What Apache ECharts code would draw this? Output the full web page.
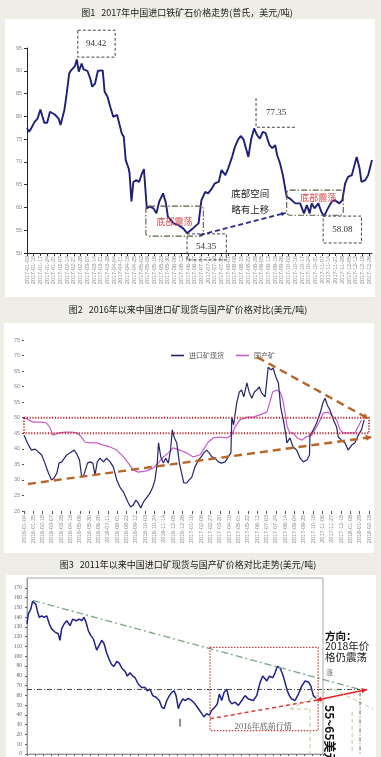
<!DOCTYPE html>
<html><head><meta charset="utf-8">
<script src="https://cdn.jsdelivr.net/npm/echarts@6/dist/echarts.min.js"></script>
<style>html,body{margin:0;padding:0;background:#eeede6}#c{width:381px;height:757px}</style>
</head><body><div id="c"></div>
<script>
// ===== Chart 1: 2017 imported iron ore price (USD/t). x = calendar days since 2017-01-03
const days1 = [0,2,4,8,11,14,18,21,24,29,33,35,39,41,44,46,48,50,52,54,57,59,63,66,68,71,74,79,81,84,87,90,94,96,99,101,102,103,106,107,109,111,114,117,120,122,125,128,132,135,138,142,145,147,153,158,163,167,173,179,182,186,189,193,196,200,203,207,210,214,217,220,223,226,228,231,234,237,240,243,246,249,253,256,259,261,264,267,271,272,274,280,285,289,292,295,297,300,304,307,310,314,318,321,326,329,332,335,339,344,347,349,353,356,360];
const price1 = [77.4,76.6,77.2,78.8,79.5,81.5,78.6,78.6,81.0,80.4,79.5,78.1,81.4,84.3,89.4,90.1,90.0,91.0,92.5,89.8,91.6,90.3,90.0,88.3,86.5,87.2,90.0,90.1,85.4,84.3,82.0,79.9,80.3,79.9,76.2,75.5,73.0,70.4,68.6,67.5,61.3,65.6,66.0,65.6,67.5,68.4,59.8,60.2,59.8,58.7,61.3,63.1,60.9,58.0,56.5,56.1,55.4,54.35,55.4,56.5,61.6,63.4,63.1,64.2,65.3,65.6,68.2,67.1,68.6,71.1,73.3,74.8,75.7,74.9,73.3,71.1,75.1,77.35,75.9,75.1,76.6,76.3,73.7,73.0,73.7,71.5,69.7,67.1,62.3,62.7,62.0,60.9,60.9,58.7,60.5,58.7,60.9,59.8,60.9,59.1,58.08,59.8,61.3,61.6,60.9,61.6,65.3,66.7,67.1,71.1,68.6,65.6,66.0,67.1,70.4];
const yTicks1 = [50,55,60,65,70,75,80,85,90,95];
const xStart1 = [2017,1,3], xSpan1 = 360, xStep1 = 7;

// ===== Chart 2: imported spot vs domestic ore. x = days since 2016-01-04
const days2Import = [0,2,10,17,25,32,40,47,55,62,68,74,79,85,91,96,104,113,119,125,130,135,143,149,155,160,165,171,179,186,194,201,209,216,224,230,235,240,246,252,257,263,269,276,284,290,295,300,303,308,314,319,325,330,334,338,344,350,355,360,366,372,378,385,393,399,405,411,417,423,430,438,445,453,460,466,468,472,479,485,490,495,502,507,513,519,524,530,535,543,547,550,556,561,568,573,578,584,590,592,599,606,614,622,629,637,643,644,652,659,667,673,678,683,689,697,704,708,715,723,730,738,745,753,760,766];
const import2 = [44.4,43.8,41.2,39.6,39.9,39.0,38.0,35.4,32.2,30.0,30.6,32.2,35.4,35.8,37.0,38.0,38.7,39.6,38.3,36.4,30.9,31.6,35.4,35.8,35.4,31.6,35.8,37.0,35.8,37.0,35.8,34.2,30.0,27.7,26.1,24.2,22.6,21.3,21.9,23.5,22.6,21.0,22.9,24.2,25.8,27.7,30.0,35.4,41.9,37.4,35.4,37.0,35.4,39.6,46.1,43.8,41.9,35.4,32.2,29.0,29.0,30.0,30.9,34.2,36.4,37.4,38.7,39.6,38.7,37.4,37.0,35.8,35.4,35.8,37.4,38.7,50.2,47.7,54.7,58.3,58.9,56.7,61.2,58.3,56.3,58.3,58.9,59.9,58.0,56.7,62.1,66.3,65.4,66.0,62.8,61.2,53.5,49.3,44.4,41.9,43.5,40.6,39.6,37.0,35.8,36.4,38.0,44.4,46.1,48.3,51.5,54.7,56.3,54.1,52.5,49.3,47.0,43.8,42.8,41.9,39.6,41.2,41.9,44.4,46.1,49.3];
const days2Domestic = [0,10,21,40,51,59,65,77,95,107,119,128,137,149,164,179,194,209,224,235,246,257,276,291,302,314,325,336,351,366,381,396,408,415,426,441,456,468,475,486,502,516,531,547,554,560,569,577,583,588,593,599,606,615,626,635,648,659,667,674,685,697,704,712,719,734,745,757,760];
const domestic2 = [50.2,49.3,48.6,48.6,48.3,46.7,44.4,45.1,45.4,45.4,45.1,44.1,42.2,41.9,41.9,41.2,40.6,39.6,37.4,35.4,33.2,32.5,32.9,33.8,35.4,37.4,38.7,40.3,39.6,38.7,37.4,38.0,40.6,42.2,43.5,43.8,43.5,44.4,47.0,49.3,50.2,50.2,50.9,51.8,55.1,58.3,58.9,58.3,55.7,51.5,47.0,45.1,45.1,43.5,42.8,43.8,44.4,47.0,49.3,51.5,51.8,50.2,49.3,46.1,45.1,45.1,45.1,48.3,49.3];
const seriesNames2 = ['进口矿现货','国产矿'];
const yTicks2 = [20,25,30,35,40,45,50,55,60,65,70,75];
const xStart2 = [2016,1,4], xSpan2 = 777, xStep2 = 21;

// ===== Chart 3: since 2011 (USD/t). x = days since 2011-01-04
const days3 = [0,11,33,50,64,79,91,109,130,150,174,197,218,247,276,291,306,327,351,380,404,433,462,483,503,521,541,562,585,615,638,660,680,704,727,748,768,792,815,836,865,886,909,933,954,983,1013,1042,1062,1086,1110,1139,1168,1189,1210,1234,1257,1278,1298,1316,1336,1351,1375,1395,1424,1454,1483,1513,1543,1563,1587,1610,1631,1660,1680,1698,1719,1740,1763,1786,1808,1837,1866,1896,1925,1954,1998,2028,2057,2081,2117,2140,2170,2190,2210,2234,2258,2278,2298,2316,2337,2366,2396,2426,2455,2484,2505,2528,2552];
const price3 = [133,143,148,156.3,158,153,146.3,139.7,141.3,139.7,141.3,133,128,124.7,123,116.3,128,133,136.3,131.3,138,136.3,138,136.3,139.7,134.7,126.3,121.3,118,106.3,111.3,116.3,113,103,96.3,91.3,89.7,94.7,93,88,84.7,79.7,83,79.7,78,71.3,68,68,64.7,66.3,59.7,58,54.7,48,46.3,54.7,59.7,63,64.7,59.7,46.3,51.3,56.3,54.7,57,54.7,51.3,46.3,41.3,38,41.3,39.7,44.7,48,51.3,61.3,54.7,63,66.3,54.7,51.3,53,49.7,54.7,59.7,56.3,54.7,59.7,73,79.7,74.7,79.7,78,83,89.7,88,81.3,73,64.7,59.7,56.3,54.7,61.3,69.7,74.7,73.7,69.7,59.7,57];
const yTicks3 = [0,10,20,30,40,50,60,70,80,90,100,110,120,130,140,150,160,170,180];
const xStart3 = [2011,1,4], xSpan3 = 2613, xStep3 = 70;

const titles = ['图1   2017年中国进口铁矿石价格走势(普氏，美元/吨)',
                '图2   2016年以来中国进口矿现货与国产矿价格对比(美元/吨)',
                '图3   2011年以来中国进口矿现货与国产矿价格对比走势(美元/吨)'];

// ---------------------------------------------------------------
const CJK = '"Noto Sans CJK SC", sans-serif';
function dateFmt(s){ const t0 = Date.UTC(s[0], s[1]-1, s[2]);
  const p = n => (n<10?'0':'')+n;
  return v => { const t = new Date(t0 + Math.round(v)*864e5);
    return t.getUTCFullYear()+'-'+p(t.getUTCMonth()+1)+'-'+p(t.getUTCDate()); }; }
const pairs = (xs, ys) => xs.map((x,i)=>[x, ys[i]]);
function yAx(g, ticks, extra){ return Object.assign({gridIndex:g, type:'value', min:ticks[0], max:ticks[ticks.length-1], interval:ticks[1]-ticks[0],
  splitLine:{show:false}}, extra); }

const chart = echarts.init(document.getElementById('c'), null, {width:381, height:757});
chart.setOption({
  animation:false,
  backgroundColor:'#eeede6',
  grid:[
    {left:27, top:48, width:345, height:205},
    {left:24, top:340, width:345, height:171},
    {left:27, top:578, width:296, height:180, show:true, borderColor:'#a8a8a8', borderWidth:1, backgroundColor:'rgba(0,0,0,0)'}
  ],
  legend:{data:seriesNames2, left:166, top:347, icon:'rect', itemWidth:13, itemHeight:1.6, itemGap:12,
    textStyle:{fontSize:7, color:'#555', fontFamily:CJK}},
  xAxis:[
    {gridIndex:0, type:'value', min:0, max:xSpan1, interval:xStep1, splitLine:{show:false},
      axisLine:{lineStyle:{color:'#222', width:1}}, axisTick:{length:3, lineStyle:{color:'#333'}},
      axisLabel:{rotate:90, fontSize:5.5, color:'#888', margin:3, formatter:dateFmt(xStart1), showMaxLabel:false}},
    {gridIndex:1, type:'value', min:0, max:xSpan2, interval:xStep2, splitLine:{show:false},
      axisLine:{show:false}, axisTick:{show:true, length:3, lineStyle:{color:'#555'}},
      axisLabel:{rotate:90, fontSize:5.5, color:'#888', margin:4, formatter:dateFmt(xStart2)}},
    {gridIndex:2, type:'value', min:0, max:xSpan3, interval:xStep3, splitLine:{show:false},
      axisLine:{lineStyle:{color:'#999'}}, axisTick:{length:2, lineStyle:{color:'#666'}},
      axisLabel:{show:false, formatter:dateFmt(xStart3)}}
  ],
  yAxis:[
    yAx(0, yTicks1, {axisLine:{show:true, lineStyle:{color:'#222'}}, axisTick:{show:true, length:3, lineStyle:{color:'#333'}},
      axisLabel:{fontSize:5.5, color:'#888', margin:5}}),
    yAx(1, yTicks2, {axisLine:{show:false}, axisTick:{show:true, length:2, lineStyle:{color:'#555'}},
      axisLabel:{fontSize:5.5, color:'#888', margin:4}}),
    yAx(2, yTicks3, {axisLine:{show:true, lineStyle:{color:'#999'}}, axisTick:{show:true, length:2, lineStyle:{color:'#666'}},
      axisLabel:{fontSize:5.5, color:'#666', margin:5, fontFamily:'"Liberation Serif", serif', showMaxLabel:false}})
  ],
  series:[
    {type:'line', name:'2017价格', xAxisIndex:0, yAxisIndex:0, symbol:'none', data:pairs(days1, price1),
      lineStyle:{color:'#1f1f7a', width:1.9}, itemStyle:{color:'#1f1f7a'}, z:5},
    {type:'line', name:seriesNames2[0], xAxisIndex:1, yAxisIndex:1, symbol:'none', data:pairs(days2Import, import2),
      lineStyle:{color:'#24246f', width:1.2}, itemStyle:{color:'#24246f'}, z:5},
    {type:'line', name:seriesNames2[1], xAxisIndex:1, yAxisIndex:1, symbol:'none', data:pairs(days2Domestic, domestic2),
      lineStyle:{color:'#c95ac9', width:1.2}, itemStyle:{color:'#c95ac9'}, z:4},
    {type:'line', name:'2011以来价格', xAxisIndex:2, yAxisIndex:2, symbol:'none', data:pairs(days3, price3),
      lineStyle:{color:'#20208a', width:1.5}, itemStyle:{color:'#20208a'}, z:5}
  ]
});

// ---------------- annotations (in data coordinates, converted by the chart's scales)
const px = (g, pt) => chart.convertToPixel({gridIndex:g}, pt);
const NONE = 'rgba(0,0,0,0)';
function L(g, a, b, style){ const p=px(g,a), q=px(g,b);
  return {type:'line', z:20, silent:true, shape:{x1:p[0],y1:p[1],x2:q[0],y2:q[1]}, style:Object.assign({fill:NONE}, style)}; }
function R(g, a, b, style, r){ const p=px(g,a), q=px(g,b);
  return {type:'rect', z:20, silent:true, shape:{x:Math.min(p[0],q[0]), y:Math.min(p[1],q[1]), width:Math.abs(q[0]-p[0]), height:Math.abs(q[1]-p[1]), r:r||0},
    style:Object.assign({fill:NONE}, style)}; }
function PL(g, pts, style){ return {type:'polyline', z:20, silent:true, shape:{points:pts.map(p=>px(g,p))}, style:Object.assign({fill:NONE}, style)}; }
function T(g, at, text, font, fill, align, extra){ const p = px(g, at);
  return Object.assign({type:'text', z:21, silent:true, x:p[0], y:p[1],
    style:{text:text, font:font, fill:fill, align:align||'center', verticalAlign:'middle', textAlign:align||'center', textVerticalAlign:'middle', lineHeight:extra&&extra.lh||undefined}}, extra&&extra.el||{}); }
function ARROW(g, a, b, color, width, dash, head, both){ const p=px(g,a), q=px(g,b);
  const out = [{type:'line', z:20, silent:true, shape:{x1:p[0],y1:p[1],x2:q[0],y2:q[1]}, style:{stroke:color, lineWidth:width, lineDash:dash||null}}];
  const tip = (s, e) => { const ang=Math.atan2(e[1]-s[1], e[0]-s[0]), h=head||7;
    return {type:'polygon', z:21, silent:true, shape:{points:[e,[e[0]-h*Math.cos(ang-0.45), e[1]-h*Math.sin(ang-0.45)],[e[0]-h*Math.cos(ang+0.45), e[1]-h*Math.sin(ang+0.45)]]}, style:{fill:color}}; };
  out.push(tip(p,q)); if (both) out.push(tip(q,p)); return out; }

const G = [];
// panels and titles
[[5,19,370,278],[4,323,370,230],[6,575,370,182]].forEach(b => G.push({type:'rect', z:-10, silent:true, shape:{x:b[0],y:b[1],width:b[2],height:b[3]}, style:{fill:'#ffffff'}}));
[[187,13],[188,310],[188,565]].forEach((p,i) => G.push({type:'text', z:5, silent:true, x:p[0], y:p[1],
  style:{text:titles[i], font:'9px '+CJK, fill:'#1a1a1a', align:'center', verticalAlign:'middle', textAlign:'center', textVerticalAlign:'middle'}}));

// chart 1
const dashBox = {stroke:'#444', lineWidth:1, lineDash:[3,2]};
const serifLbl = '9px "Liberation Serif", serif';
G.push(R(0, [53,98.9], [92,93.0], dashBox));
G.push(T(0, [72,95.9], '94.42', serifLbl, '#333'));
G.push(PL(0, [[239,84.0],[239,77.6],[280,77.6]], dashBox));
G.push(T(0, [260,80.9], '77.35', serifLbl, '#333'));
G.push(R(0, [167,54.2], [208,48.5], dashBox));
G.push(T(0, [187,51.3], '54.35', serifLbl, '#333'));
G.push(R(0, [309,58.1], [349,52.2], dashBox));
G.push(T(0, [329,55.2], '58.08', serifLbl, '#333'));
const ddBox = {stroke:'#5b5b45', lineWidth:1.1, lineDash:[6,2,1.5,2]};
G.push(R(0, [124,60.3], [184,53.7], ddBox, 3));
G.push(R(0, [271,63.8], [330,58.3], ddBox, 3));
G.push(T(0, [154,57.0], '底部震荡', '9px '+CJK, '#d04a4a'));
G.push(T(0, [304,62.1], '底部震荡', '9px '+CJK, '#d04a4a'));
G.push(T(0, [233,61.3], '底部空间\n略有上移', '9.5px '+CJK, '#222', 'center', {lh:16}));
ARROW(0, [180,53.9], [270,58.8], '#2a2a86', 1.8, [5,3], 5).forEach(e=>G.push(e));

// chart 2
G.push(R(1, [0,50], [xSpan2,45], {stroke:'#c0282d', lineWidth:1.8, lineDash:[1.2,1.6]}));
const orange = '#b8652a';
ARROW(1, [525,69.5], [777,49.6], orange, 2.4, [8,5], 7).forEach(e=>G.push(e));
ARROW(1, [9,28.7], [784,43.8], orange, 2.4, [8,5], 7).forEach(e=>G.push(e));

// chart 3
G.push(L(2, [53,157], [2940,66], {stroke:'#7fae8a', lineWidth:1.4, lineDash:[7,3,2,3]}));
G.push(L(2, [0,66], [2940,66], {stroke:'#333', lineWidth:0.9, lineDash:[5,2,1,2]}));
G.push(L(2, [1616,36], [2552,55], {stroke:'#e03c3c', lineWidth:1.5, lineDash:[4,3]}));
ARROW(2, [2552,55], [3002,66], '#e02424', 1.6, null, 6, true).forEach(e=>G.push(e));
G.push(R(2, [1616,109], [2570,24], {stroke:'#cc3b3b', lineWidth:1.2, lineDash:[1.5,1.5]}));
G.push(T(2, [2084,29], '2016年底前行情', '8px "Noto Serif CJK SC", "Liberation Serif", serif', '#444'));
const lg = {stroke:'#b9cc8e', lineWidth:1, lineDash:[4,3]};
G.push(PL(2, [[2322,46],[2499,46]], lg));
G.push(PL(2, [[2322,46],[2693,67],[3055,46]], lg));
G.push(L(2, [2499,46], [2499,0], lg));
G.push(L(2, [2870,43], [2870,0], lg));
G.push(L(2, [2940,63], [2940,0], {stroke:'#555', lineWidth:0.9, lineDash:[4,2,1,2]}));
G.push(L(2, [1351,36], [1351,28], {stroke:'#222', lineWidth:1}));
G.push(T(2, [2631,121], '方向：', 'bold 10.5px '+CJK, '#111', 'left'));
G.push(T(2, [2631,110], '2018年价', '10.5px '+CJK, '#222', 'left'));
G.push(T(2, [2631,99], '格仍震荡', '10.5px '+CJK, '#222', 'left'));
G.push(T(2, [2640,84], '涨', '7px '+CJK, '#666', 'left'));
G.push(T(2, [2675,50], '55~65美元', 'bold 12px '+CJK, '#111', 'left', {el:{rotation:-Math.PI/2}}));

chart.setOption({graphic:{elements:G}});
</script></body></html>
